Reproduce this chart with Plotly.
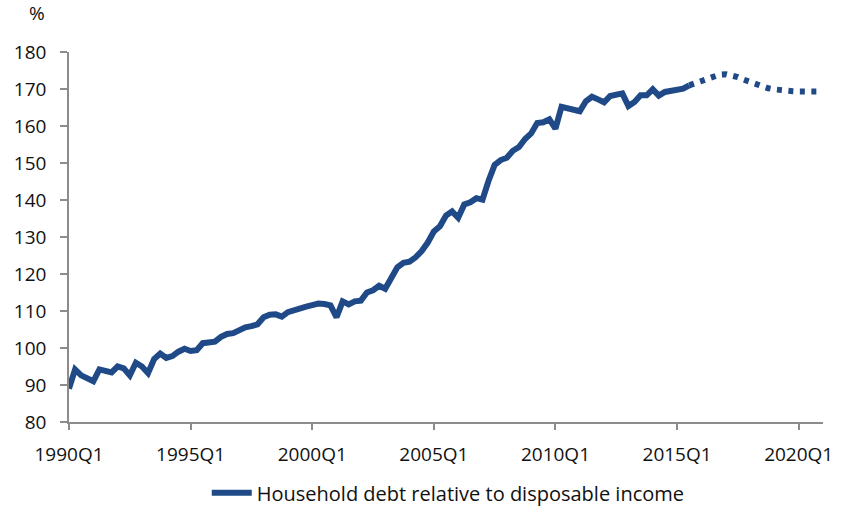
import plotly.graph_objects as go

years = list(range(1990, 2021))
quarters = [f"{y}Q{q}" for y in years for q in range(1, 5)]

tick_labels = ["1990Q1", "1995Q1", "2000Q1", "2005Q1", "2010Q1", "2015Q1", "2020Q1"]

# Household debt relative to disposable income, 1990Q1 - 2015Q3 (actual)
actual = [
    89.0, 94.2, 92.6, 92.0, 91.0, 94.2, 94.0, 93.4, 95.0, 94.5,
    92.6, 96.0, 95.0, 93.2, 97.0, 98.5, 97.3, 97.8, 99.0, 99.8,
    99.2, 99.4, 101.3, 101.5, 101.7, 103.0, 103.8, 104.0, 104.9, 105.6,
    105.9, 106.4, 108.3, 109.0, 109.1, 108.5, 109.7, 110.3, 110.8, 111.2,
    111.6, 112.0, 111.9, 111.5, 108.3, 112.6, 111.8, 112.6, 112.8, 115.0,
    115.6, 116.8, 116.0, 118.8, 121.8, 123.0, 123.3, 124.5, 126.2, 128.5,
    131.5, 132.9, 135.8, 136.9, 135.2, 138.8, 139.4, 140.5, 140.1, 145.2,
    149.5, 150.8, 151.4, 153.3, 154.3, 156.5, 158.0, 160.8, 161.0, 161.8,
    159.3, 165.2, 164.9, 164.5, 164.0, 166.7, 167.9, 167.2, 166.4, 168.1,
    168.6, 168.8, 165.4, 166.5, 168.3, 168.3, 169.9, 168.2, 169.2, 169.6,
    169.9, 170.1, 171.0,
]

# Projection, 2015Q3 - 2020Q4
projection = [
    171.0, 171.6, 172.2, 173.0, 173.6, 173.9, 174.0, 173.7, 173.2, 172.5,
    171.9, 171.2, 170.6, 170.2, 169.9, 169.6, 169.5, 169.4, 169.3, 169.2,
    169.2, 169.3,
]

n_act = len(actual)
x_act = quarters[:n_act]
x_proj = quarters[n_act - 1:n_act - 1 + len(projection)]

blue = "#1F4A87"
axis_col = "#8C8C8C"
font_fam = "Open Sans, Noto Sans, sans-serif"

fig = go.Figure()
fig.add_trace(go.Scatter(
    x=x_act, y=actual, mode="lines",
    line=dict(color=blue, width=6),
    name="Household debt relative to disposable income",
))
fig.add_trace(go.Scatter(
    x=x_proj, y=projection, mode="lines",
    line=dict(color=blue, width=6, dash="5px,6.5px"),
    showlegend=False,
))

fig.update_layout(
    width=844, height=508,
    margin=dict(l=69, r=21, t=52, b=86),
    paper_bgcolor="white", plot_bgcolor="white",
    font=dict(family=font_fam, size=19, color="#111111"),
    showlegend=True,
    legend=dict(orientation="h", x=0.503, xanchor="center",
                yref="container", y=0.03, yanchor="middle",
                font=dict(size=20), itemwidth=40),
    annotations=[dict(text="%", xref="paper", yref="paper", x=-0.043, y=1.105,
                      xanchor="center", yanchor="middle", showarrow=False,
                      font=dict(size=19))],
)
fig.update_xaxes(
    type="category", categoryorder="array", categoryarray=quarters,
    range=[0, 124], tickmode="array", tickvals=tick_labels, ticktext=tick_labels,
    showline=True, linecolor=axis_col, linewidth=1.5,
    ticks="outside", ticklen=6, tickcolor=axis_col, tickwidth=1.5,
    showgrid=False, zeroline=False, ticklabelstandoff=8, automargin=False,
)
fig.update_yaxes(
    range=[80, 180], dtick=10, tick0=80,
    showline=True, linecolor=axis_col, linewidth=1.5,
    ticks="outside", ticklen=7, tickcolor=axis_col, tickwidth=1.5,
    showgrid=False, zeroline=False, ticklabelstandoff=10, automargin=False,
)

fig.write_html("out.html", config={"displayModeBar": False},
               post_script="document.body.style.margin='0';")
